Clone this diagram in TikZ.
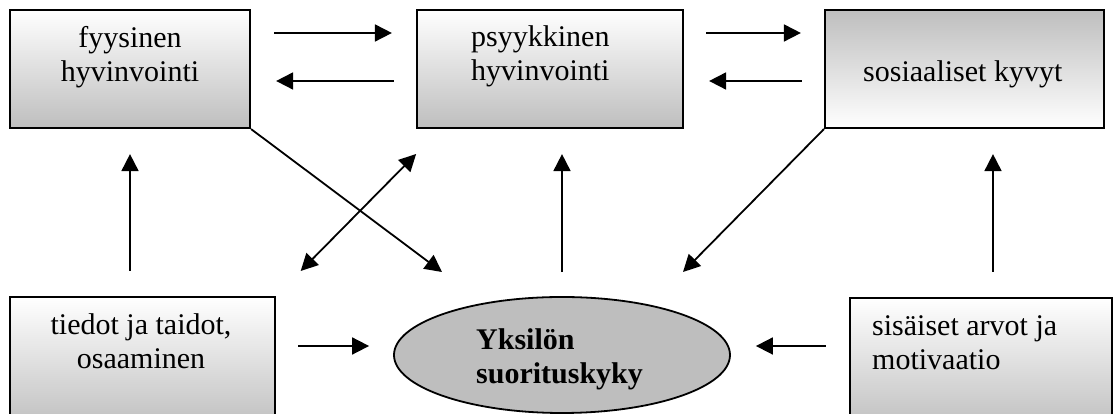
\documentclass[tikz,border=0pt]{standalone}
\usepackage{fontspec}
\setmainfont{Liberation Serif}
\usetikzlibrary{arrows.meta,calc,shapes.geometric}
\definecolor{boxgray}{HTML}{BEBEBE}
\tikzset{
  box/.style={draw=black, line width=2.2pt, rectangle, inner sep=0pt},
  fadedown/.style={top color=white, bottom color=boxgray},
  fadeup/.style={top color=boxgray, bottom color=white},
  txt/.style={inner sep=0pt, font=\fontsize{30pt}{34pt}\selectfont},
  tip/.style={Triangle[length=17pt,width=17pt]},
  arr/.style={line width=1.8pt, -{Triangle[length=17pt,width=17pt]}},
  dblarr/.style={line width=1.8pt, {Triangle[length=17pt,width=17pt]}-{Triangle[length=17pt,width=17pt]}},
}
\begin{document}
\begin{tikzpicture}[x=1pt,y=1pt]
\useasboundingbox (0,0) rectangle (1114,414);
\clip (0,0) rectangle (1114,414);

% boxes
\node[box, fadedown, minimum width=240pt, minimum height=118pt] (fys) at (130,345) {};
\node[box, fadedown, minimum width=266pt, minimum height=118pt] (psy) at (550,345) {};
\node[box, fadeup,   minimum width=279pt, minimum height=118pt] (sos) at (964.5,345) {};
\node[box, fadedown, minimum width=265pt, minimum height=133pt] (tie) at (142.5,50.5) {};
\node[box, fadedown, minimum width=262pt, minimum height=133pt] (sis) at (981,49.5) {};
\node[draw=black, line width=1.8pt, ellipse, fill=boxgray, minimum width=336pt, minimum height=116pt, inner sep=0pt] (ell) at (562,59) {};

% texts (base anchor sits on the last line)
\node[txt, anchor=base, align=center] (tfys) at (130,332) {fyysinen\\hyvinvointi};
\node[txt, anchor=base west, align=left] (tpsy) at (471,333) {psyykkinen\\hyvinvointi};
\node[txt, anchor=base west] (tsos) at (863,332) {sosiaaliset kyvyt};
\node[txt, anchor=base, align=center] (ttie) at (141,45) {tiedot ja taidot,\\osaaminen};
\node[txt, anchor=base west, align=left] (tsis) at (872,44) {sisäiset arvot ja\\motivaatio};
\node[txt, anchor=base west, align=left, font=\fontsize{30pt}{34pt}\selectfont\bfseries] (tell) at (476,30) {Yksilön\\suorituskyky};

% free ends of the diagonal connectors
\coordinate (fysend) at (442,142);
\coordinate (sosend) at (683,142);
\coordinate (psyfoot) at ($(psy.south west)!0.0925!(psy.south east)$);

% horizontal connectors between the upper boxes
\draw[arr, shorten <=23pt, shorten >=24pt] ([yshift=36pt]fys.east) -- ([yshift=36pt]psy.west);
\draw[arr, shorten <=22pt, shorten >=25pt] ([yshift=-12pt]psy.west) -- ([yshift=-12pt]fys.east);
\draw[arr, shorten <=22pt, shorten >=23pt] ([yshift=36pt]psy.east) -- ([yshift=36pt]sos.west);
\draw[arr, shorten <=22pt, shorten >=25pt] ([yshift=-12pt]sos.west) -- ([yshift=-12pt]psy.east);

% upward connectors
\draw[arr, shorten <=25pt, shorten >=25pt] (tie.north -| fys.south) -- (fys.south);
\draw[arr, shorten <=24pt, shorten >=25pt] (ell.north) -- (ell.north |- psy.south);
\draw[arr, shorten <=25pt, shorten >=25pt] ([xshift=12pt]sis.north) -- ([xshift=12pt]sis.north |- sos.south);

% diagonal connectors
\draw[arr] (fys.south east) -- (fysend);
\draw[dblarr, shorten <=35pt, shorten >=35pt] (tie.north east) -- (psyfoot);
\draw[arr] (sos.south west) -- (sosend);

% connectors into the ellipse
\draw[arr, shorten <=22pt, shorten >=24pt] (tie.east |- 0,68) -- (ell.west |- 0,68);
\draw[arr, shorten <=23pt, shorten >=25pt] (sis.west |- 0,68) -- (ell.east |- 0,68);
\end{tikzpicture}
\end{document}
